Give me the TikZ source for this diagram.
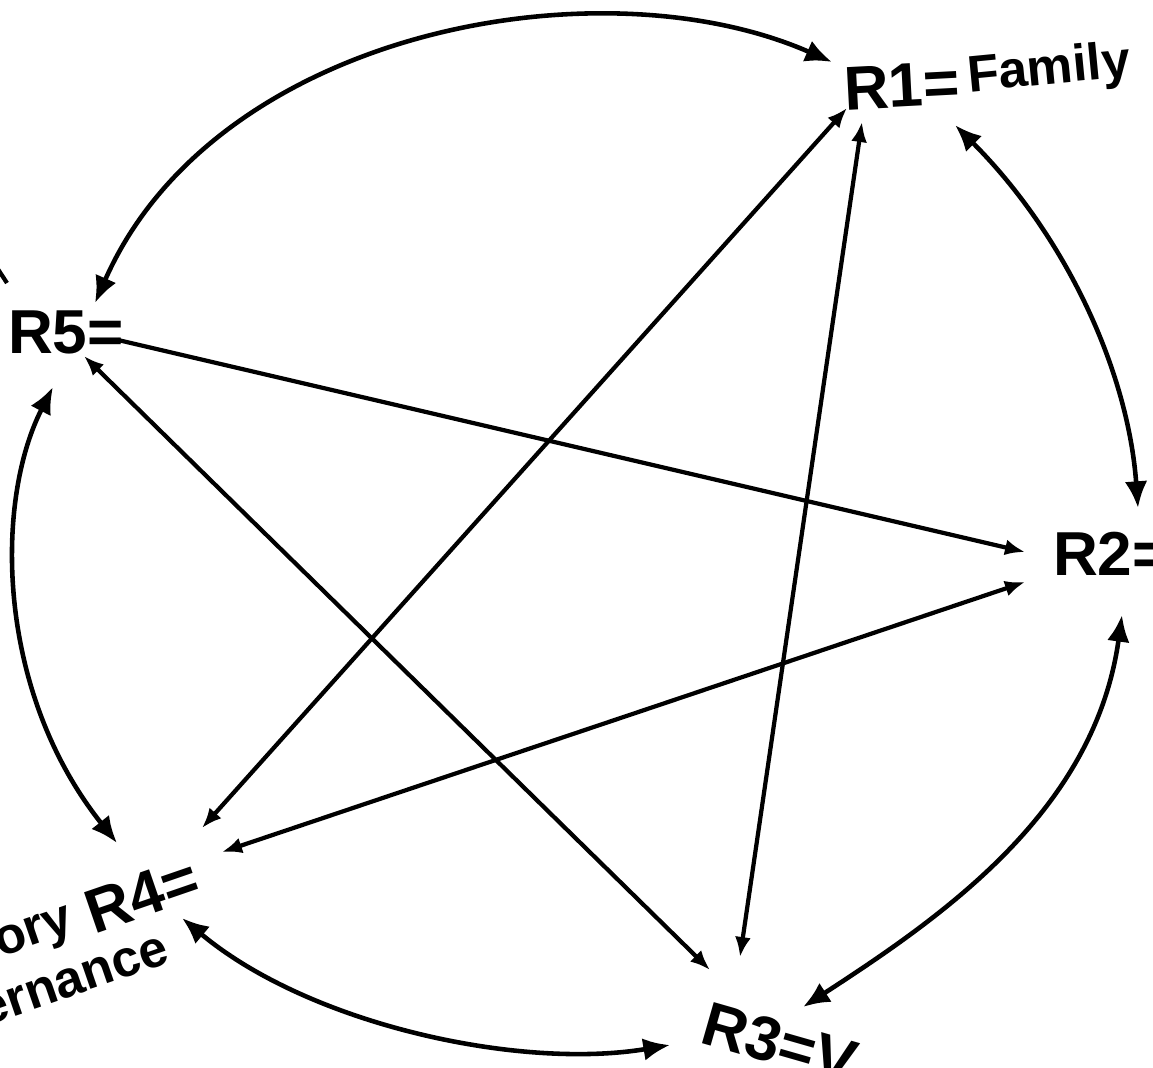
\documentclass[tikz,border=0pt]{standalone}
\usepackage{fontspec}
\setmainfont{Liberation Sans}
\usetikzlibrary{arrows.meta}
\tikzset{
  big/.style={font=\fontsize{53pt}{60pt}\selectfont\bfseries, inner sep=0pt, outer sep=0pt},
  small/.style={font=\fontsize{44pt}{50pt}\selectfont\bfseries, inner sep=0pt, outer sep=0pt},
  wire/.style={line width=3.6pt, draw=black},
  conn/.style={wire, {Latex[length=0.6cm,width=0.48cm]}-{Latex[length=0.6cm,width=0.48cm]}},
  oneway/.style={wire, -{Latex[length=0.6cm,width=0.48cm]}},
  ring/.style={wire, line width=3.9pt, {Latex[length=0.8cm,width=0.68cm]}-{Latex[length=0.8cm,width=0.68cm]}}
}
\begin{document}
\begin{tikzpicture}[x=0.03cm,y=-0.03cm]
\useasboundingbox (0,0) rectangle (1153,1067);
\fill[white] (0,0) rectangle (1153,1067);
\clip (0,0) rectangle (1153,1067);

% labels
\node[big, anchor=base west, rotate=3] (R1) at (845,110) {R1=};
\node[small, anchor=base west, rotate=5.5] (fam) at (969,92) {Family};
\node[big, anchor=base west] (R2) at (1053,575) {R2=};
\node[big, anchor=base west, rotate=-16] (R3) at (698,1042) {R3=V};
\node[big, anchor=base west, rotate=19] (R4) at (94,934) {R4=};
\node[small, anchor=base east, rotate=19] (ory) at (76,931) {ory};
\node[small, anchor=base east, rotate=19] (gov) at (172,962) {ernance};
\node[big, anchor=base west] (R5) at (8,353) {R5=};

% endpoints
\coordinate (r5top) at (95,303);
\coordinate (r1left) at (832,62);
\coordinate (r1right) at (955,125);
\coordinate (r2top) at (1138,508);
\coordinate (r2bot) at (1122,615);
\coordinate (r3right) at (803,1007);
\coordinate (r3left) at (670,1045);
\coordinate (r4bot) at (182,918);
\coordinate (r4left) at (117,843);
\coordinate (r5bot) at (53,387);

\coordinate (r5eq) at (118,340);
\coordinate (r2in1) at (1025,552);
\coordinate (r5in) at (84,356);
\coordinate (r3in1) at (710,970);
\coordinate (r1in1) at (847,108);
\coordinate (r4in1) at (202,828);
\coordinate (r1in2) at (862,122);
\coordinate (r3in2) at (740,957);
\coordinate (r2in2) at (1025,582);
\coordinate (r4in2) at (222,852);
\coordinate (fragA) at (-10,257);
\coordinate (fragB) at (7,283);

% outer ring
\draw[ring] (r5top) .. controls (215,30) and (600,-40) .. (r1left);
\draw[ring] (r1right) .. controls (1065,235) and (1128,370) .. (r2top);
\draw[ring] (r2bot) .. controls (1095,810) and (945,915) .. (r3right);
\draw[ring] (r4bot) .. controls (310,1025) and (520,1070) .. (r3left);
\draw[ring] (r5bot) .. controls (-5,500) and (-5,690) .. (r4left);

% star
\draw[oneway] (r5eq) -- (r2in1);
\draw[conn] (r5in) -- (r3in1);
\draw[conn] (r1in1) -- (r4in1);
\draw[conn] (r1in2) -- (r3in2);
\draw[conn] (r2in2) -- (r4in2);
\draw[wire] (fragA) -- (fragB);
\end{tikzpicture}
\end{document}
